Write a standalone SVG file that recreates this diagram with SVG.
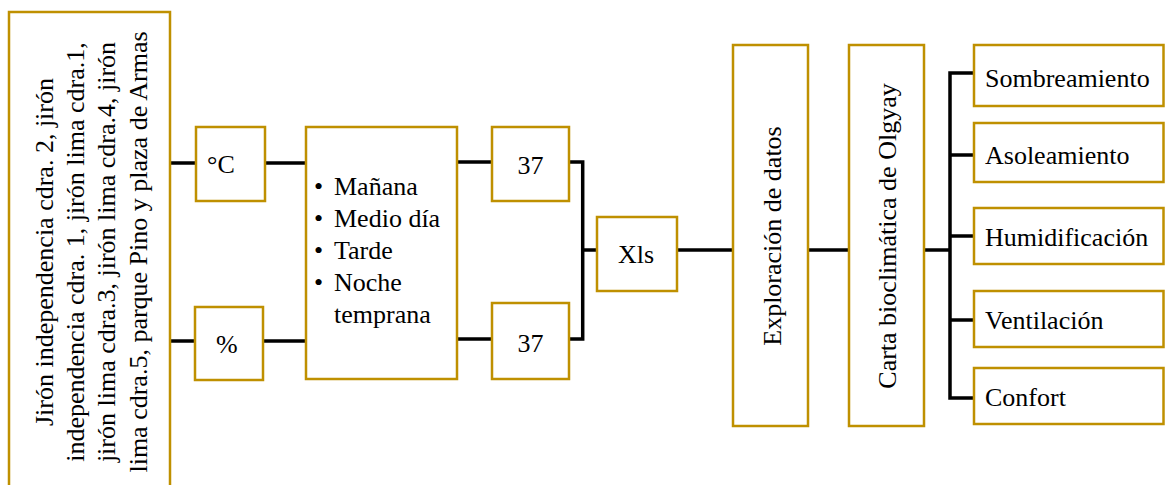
<svg xmlns="http://www.w3.org/2000/svg" width="1165" height="485" viewBox="0 0 1165 485">
  <style>
    .box { fill: #ffffff; stroke: #BF9000; stroke-width: 2.5; }
    .wire { fill: none; stroke: #000000; stroke-width: 3.5; stroke-linecap: butt; stroke-linejoin: miter; }
    .t { font-family: 'Liberation Serif', 'DejaVu Serif', serif; font-size: 26px; fill: #000000; }
    .mid { text-anchor: middle; }
  </style>

  <rect x="0" y="0" width="1165" height="485" fill="#ffffff"/>

  <!-- connectors -->
  <g id="connectors" class="wire">
    <path d="M170 163 H196"/>
    <path d="M265 163 H306"/>
    <path d="M170 341 H195"/>
    <path d="M263 341 H306"/>
    <path d="M457 162 H492"/>
    <path d="M457 339 H492"/>
    <path d="M569 162 H582.7 V339 H569"/>
    <path d="M582.7 250 H597"/>
    <path d="M677 250 H733"/>
    <path d="M808 250 H849"/>
    <path d="M924 250 H950"/>
    <path d="M974 73 H950 V398 H974"/>
    <path d="M950 155 H974"/>
    <path d="M950 236 H974"/>
    <path d="M950 320 H974"/>
  </g>

  <!-- locations -->
  <g id="node-ubicaciones">
    <rect class="box" x="9" y="12" width="161" height="500"/>
    <g class="t mid" font-family="Liberation Serif, serif" transform="translate(0 252)">
      <text transform="translate(52.5 0) rotate(-90)">Jirón independencia cdra. 2, jirón</text>
      <text transform="translate(83.5 0) rotate(-90)">independencia cdra. 1, jirón lima cdra.1,</text>
      <text transform="translate(115 0) rotate(-90)">jirón lima cdra.3, jirón lima cdra.4, jirón</text>
      <text transform="translate(146.5 0) rotate(-90)">lima cdra.5, parque Pino y plaza de Armas</text>
    </g>
  </g>

  <g id="node-temperatura">
    <rect class="box" x="196" y="127" width="69" height="74"/>
    <text class="t" x="207" y="173">°C</text>
  </g>

  <g id="node-humedad">
    <rect class="box" x="195" y="307" width="68" height="73"/>
    <text class="t" x="216" y="353">%</text>
  </g>

  <g id="node-horarios" class="t">
    <rect class="box" x="306" y="127" width="151" height="252"/>
    <text x="314" y="195">•</text><text x="334" y="195">Mañana</text>
    <text x="314" y="227">•</text><text x="334" y="227">Medio día</text>
    <text x="314" y="259">•</text><text x="334" y="259">Tarde</text>
    <text x="314" y="291">•</text><text x="334" y="291">Noche</text>
    <text x="334" y="323">temprana</text>
  </g>

  <g id="node-37-a">
    <rect class="box" x="492" y="127" width="77" height="74"/>
    <text class="t mid" x="530.5" y="174">37</text>
  </g>

  <g id="node-37-b">
    <rect class="box" x="492" y="303" width="77" height="76"/>
    <text class="t mid" x="530.5" y="352">37</text>
  </g>

  <g id="node-xls">
    <rect class="box" x="597" y="217" width="80" height="74"/>
    <text class="t mid" x="636" y="263">Xls</text>
  </g>

  <g id="node-exploracion">
    <rect class="box" x="733" y="45" width="75" height="381"/>
    <text class="t mid" transform="translate(781 236) rotate(-90)">Exploración de datos</text>
  </g>

  <g id="node-carta">
    <rect class="box" x="849" y="45" width="75" height="381"/>
    <text class="t mid" transform="translate(896 236) rotate(-90)">Carta bioclimática de Olgyay</text>
  </g>

  <g id="node-sombreamiento">
    <rect class="box" x="974" y="45" width="189.5" height="61"/>
    <text class="t" x="985" y="87">Sombreamiento</text>
  </g>

  <g id="node-asoleamiento">
    <rect class="box" x="974" y="123" width="189.5" height="59"/>
    <text class="t" x="985" y="164">Asoleamiento</text>
  </g>

  <g id="node-humidificacion">
    <rect class="box" x="974" y="208" width="189.5" height="56"/>
    <text class="t" x="985" y="246">Humidificación</text>
  </g>

  <g id="node-ventilacion">
    <rect class="box" x="974" y="291" width="189.5" height="56"/>
    <text class="t" x="985" y="329">Ventilación</text>
  </g>

  <g id="node-confort">
    <rect class="box" x="974" y="368" width="189.5" height="56"/>
    <text class="t" x="985" y="406">Confort</text>
  </g>
</svg>
